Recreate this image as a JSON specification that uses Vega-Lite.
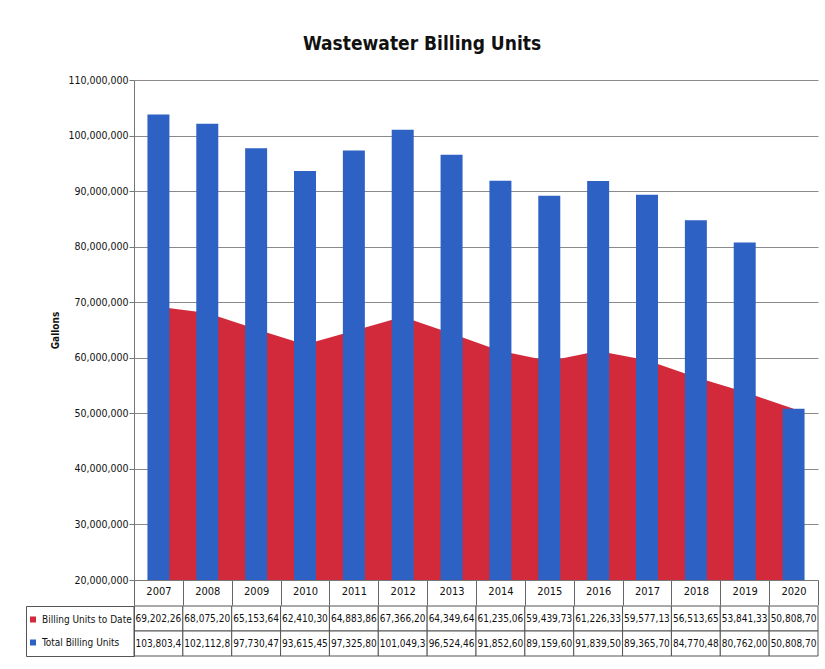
{
  "$schema": "https://vega.github.io/schema/vega-lite/v6.json",
  "padding": {"left": 25, "top": 35, "right": 5, "bottom": 10},
  "config": {
    "font": "DejaVu Sans Condensed, Liberation Sans, sans-serif",
    "view": {"stroke": null}
  },
  "title": {"text": "Wastewater Billing Units", "fontSize": 19, "fontWeight": "bold", "offset": 21, "anchor": "middle", "color": "#111"},
  "datasets": {
    "units": [
      {"year": "2007", "series": "Billing Units to Date", "value": 69202260},
      {"year": "2008", "series": "Billing Units to Date", "value": 68075200},
      {"year": "2009", "series": "Billing Units to Date", "value": 65153640},
      {"year": "2010", "series": "Billing Units to Date", "value": 62410300},
      {"year": "2011", "series": "Billing Units to Date", "value": 64883860},
      {"year": "2012", "series": "Billing Units to Date", "value": 67366200},
      {"year": "2013", "series": "Billing Units to Date", "value": 64349640},
      {"year": "2014", "series": "Billing Units to Date", "value": 61235060},
      {"year": "2015", "series": "Billing Units to Date", "value": 59439730},
      {"year": "2016", "series": "Billing Units to Date", "value": 61226330},
      {"year": "2017", "series": "Billing Units to Date", "value": 59577130},
      {"year": "2018", "series": "Billing Units to Date", "value": 56513650},
      {"year": "2019", "series": "Billing Units to Date", "value": 53841330},
      {"year": "2020", "series": "Billing Units to Date", "value": 50808700},
      {"year": "2007", "series": "Total Billing Units", "value": 103803400},
      {"year": "2008", "series": "Total Billing Units", "value": 102112800},
      {"year": "2009", "series": "Total Billing Units", "value": 97730470},
      {"year": "2010", "series": "Total Billing Units", "value": 93615450},
      {"year": "2011", "series": "Total Billing Units", "value": 97325800},
      {"year": "2012", "series": "Total Billing Units", "value": 101049300},
      {"year": "2013", "series": "Total Billing Units", "value": 96524460},
      {"year": "2014", "series": "Total Billing Units", "value": 91852600},
      {"year": "2015", "series": "Total Billing Units", "value": 89159600},
      {"year": "2016", "series": "Total Billing Units", "value": 91839500},
      {"year": "2017", "series": "Total Billing Units", "value": 89365700},
      {"year": "2018", "series": "Total Billing Units", "value": 84770480},
      {"year": "2019", "series": "Total Billing Units", "value": 80762000},
      {"year": "2020", "series": "Total Billing Units", "value": 50808700}
    ]
  },
  "resolve": {"scale": {"color": "independent"}, "legend": {"color": "independent"}},
  "spacing": -3,
  "vconcat": [
    {
      "width": 684,
      "height": 500,
      "data": {"name": "units"},
      "encoding": {
        "x": {
          "field": "year", "type": "ordinal", "title": null,
          "scale": {"paddingInner": 0, "paddingOuter": 0},
          "axis": {
            "labelAngle": 0, "labelFontSize": 11, "labelColor": "#111",
            "tickBand": "extent", "tickSize": 25, "tickColor": "#666",
            "labelPadding": -20, "domainColor": "#777", "grid": false
          }
        }
      },
      "layer": [
        {
          "transform": [{"filter": "datum.series == 'Billing Units to Date'"}],
          "mark": {"type": "area", "color": "#d22a3a", "clip": true},
          "encoding": {
            "y": {
              "field": "value", "type": "quantitative", "title": "Gallons",
              "scale": {"domain": [20000000, 110000000], "zero": false},
              "axis": {
                "values": [20000000, 30000000, 40000000, 50000000, 60000000, 70000000, 80000000, 90000000, 100000000, 110000000],
                "format": ",d", "labelFontSize": 10.5, "labelColor": "#111",
                "tickSize": 5, "tickColor": "#777", "domainColor": "#777",
                "gridColor": "#8a8a8a", "gridWidth": 1, "labelPadding": 1,
                "titleFontSize": 10, "titleFontWeight": "bold", "titleColor": "#111", "titlePadding": 7
              }
            },
            "y2": {"datum": 20000000}
          }
        },
        {
          "transform": [{"filter": "datum.series == 'Total Billing Units'"}],
          "mark": {"type": "bar", "color": "#2e61c4", "width": {"band": 0.45}, "clip": true},
          "encoding": {
            "y": {"field": "value", "type": "quantitative"},
            "y2": {"datum": 20000000}
          }
        }
      ]
    },
    {
      "width": 684,
      "height": 50,
      "data": {"name": "units"},
      "encoding": {
        "x": {"field": "year", "type": "ordinal", "axis": null, "scale": {"paddingInner": 0, "paddingOuter": 0}},
        "y": {"field": "series", "type": "nominal", "axis": null,
              "scale": {"domain": ["Billing Units to Date", "Total Billing Units"], "paddingInner": 0, "paddingOuter": 0}}
      },
      "layer": [
        {
          "mark": {"type": "rect", "fill": "white", "stroke": "#555", "strokeWidth": 1}
        },
        {
          "mark": {"type": "text", "align": "left", "dx": 1.5, "fontSize": 10, "color": "#111", "limit": 47, "ellipsis": "\u200b"},
          "encoding": {
            "x": {"field": "year", "type": "ordinal", "bandPosition": 0},
            "text": {"field": "value", "type": "quantitative", "format": ",d"}
          }
        },
        {
          "mark": {"type": "point", "shape": "square", "filled": true, "opacity": 0},
          "encoding": {
            "color": {
              "field": "series", "type": "nominal",
              "scale": {"domain": ["Billing Units to Date", "Total Billing Units"], "range": ["#d22a3a", "#2e61c4"]},
              "legend": {
                "orient": "left", "offset": 0, "title": null,
                "symbolType": "square", "symbolSize": 36, "symbolOpacity": 1, "symbolStrokeWidth": 0,
                "labelFontSize": 10, "labelColor": "#111", "labelOffset": 4,
                "padding": 2, "rowPadding": 0, "clipHeight": 23, "strokeColor": "#555"
              }
            }
          }
        }
      ]
    }
  ]
}
